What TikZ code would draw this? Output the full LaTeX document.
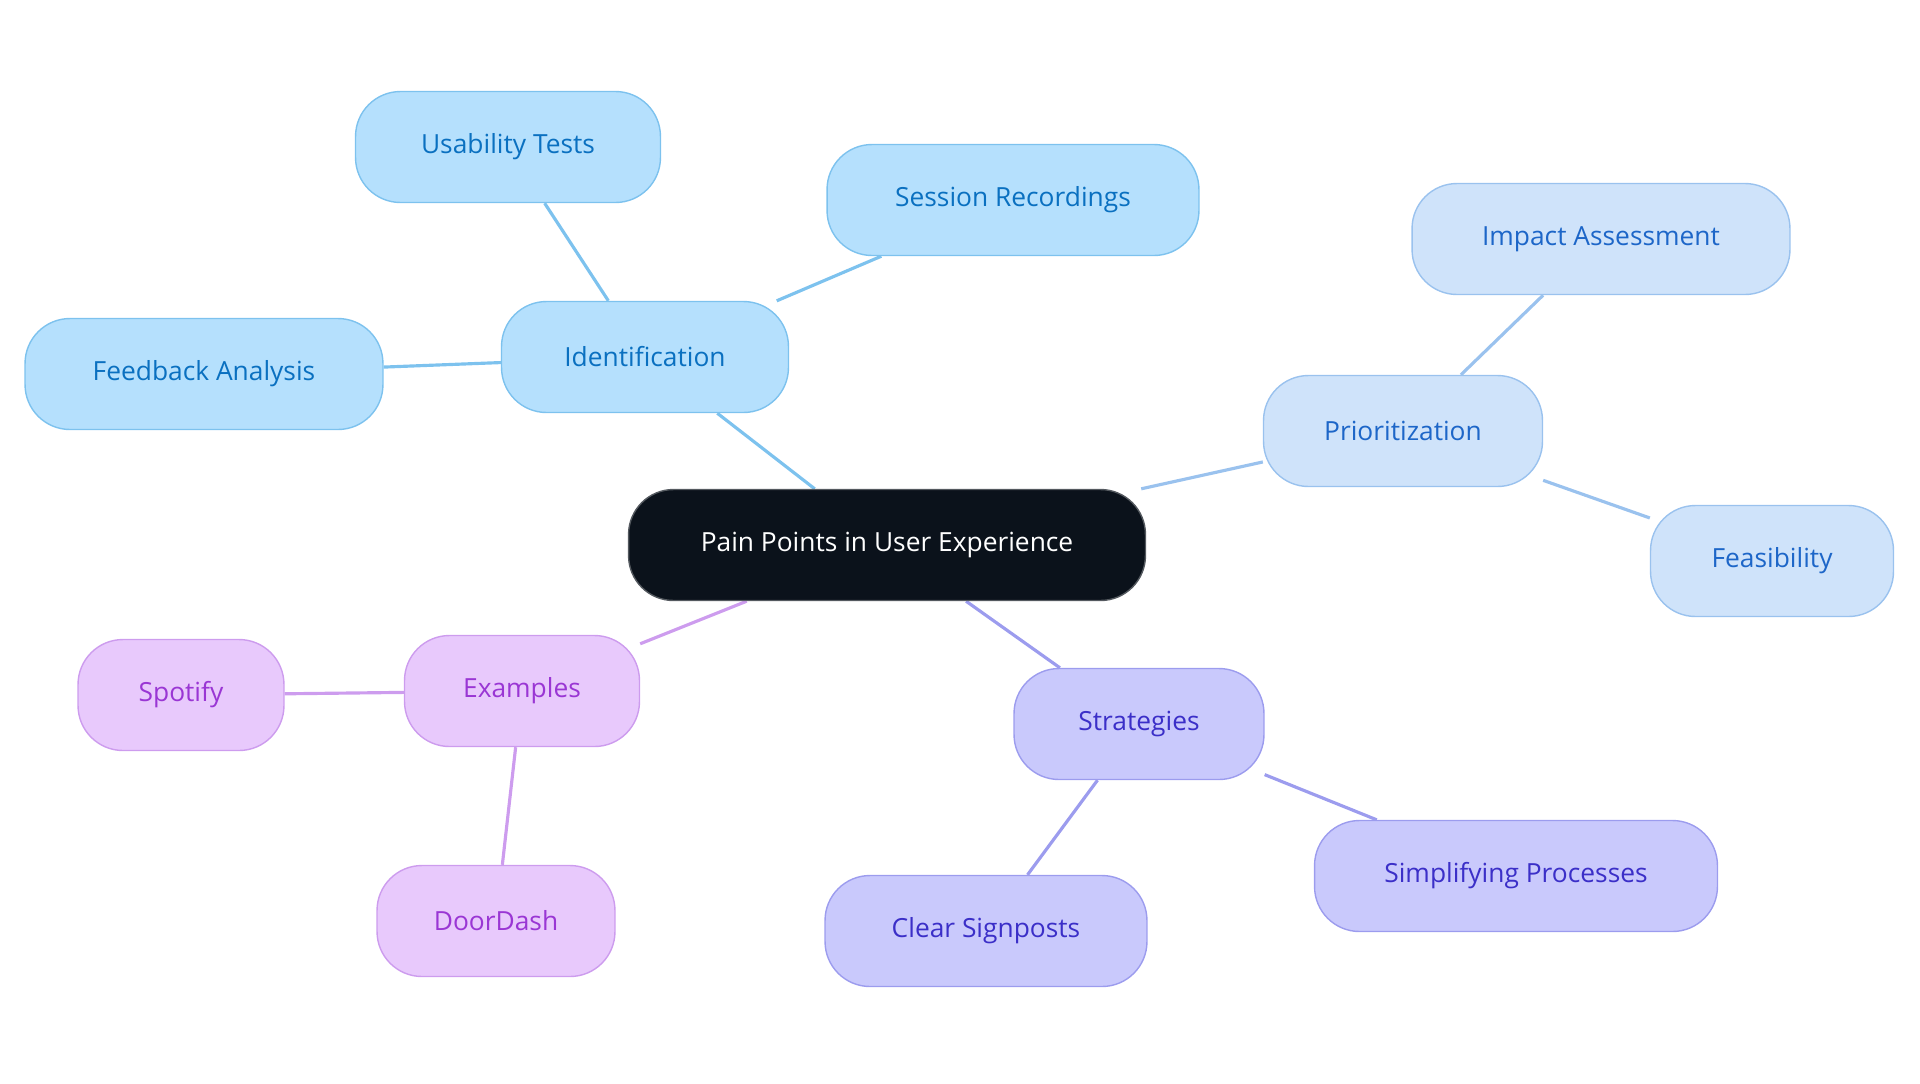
\documentclass[tikz,border=0pt]{standalone}
\usepackage{fontspec}
\setmainfont{Open Sans}
\usetikzlibrary{backgrounds}
\definecolor{rootfill}{HTML}{0B121B}
\definecolor{idfill}{HTML}{B5E0FD}\definecolor{iddraw}{HTML}{7DC2EE}\definecolor{idtext}{HTML}{0A70C0}
\definecolor{prfill}{HTML}{CFE3FA}\definecolor{prdraw}{HTML}{9AC2EE}\definecolor{prtext}{HTML}{1D66C8}
\definecolor{stfill}{HTML}{C9C9FC}\definecolor{stdraw}{HTML}{9C9CEE}\definecolor{sttext}{HTML}{3B2FC8}
\definecolor{exfill}{HTML}{E8C9FC}\definecolor{exdraw}{HTML}{CD9CEE}\definecolor{extext}{HTML}{9A36D4}
\tikzset{
  pill/.style={rounded corners=0.9cm, minimum height=2.22cm, line width=0.8pt, font=\fontsize{15}{18}\selectfont, inner sep=0pt},
  idbox/.style={pill, fill=idfill, draw=iddraw, text=idtext},
  prbox/.style={pill, fill=prfill, draw=prdraw, text=prtext},
  stbox/.style={pill, fill=stfill, draw=stdraw, text=sttext},
  exbox/.style={pill, fill=exfill, draw=exdraw, text=extext},
  link/.style={line width=1.8pt}
}
\begin{document}
\begin{tikzpicture}[x=0.02cm,y=-0.02cm]
\useasboundingbox (0,0) rectangle (1920,1083);
% centre
\node[pill, fill=rootfill, draw=rootfill!70!white, text=white, minimum width=10.34cm] (root) at (887,545) {Pain Points in User Experience};
% identification
\node[idbox, minimum width=5.74cm] (ident) at (645,357) {Identification};
\node[idbox, minimum width=6.1cm] (usab) at (508,147) {Usability Tests};
\node[idbox, minimum width=7.44cm] (sess) at (1013,200) {Session Recordings};
\node[idbox, minimum width=7.16cm] (feed) at (204,374) {Feedback Analysis};
% prioritization
\node[prbox, minimum width=5.58cm] (prio) at (1403,431) {Prioritization};
\node[prbox, minimum width=7.56cm] (impact) at (1601,239) {Impact Assessment};
\node[prbox, minimum width=4.86cm] (feas) at (1772,561) {Feasibility};
% strategies
\node[stbox, minimum width=5.0cm] (strat) at (1139,724) {Strategies};
\node[stbox, minimum width=6.44cm] (clear) at (986,931) {Clear Signposts};
\node[stbox, minimum width=8.06cm] (simpl) at (1516,876) {Simplifying Processes};
% examples
\node[exbox, minimum width=4.7cm] (exam) at (522,691) {Examples};
\node[exbox, minimum width=4.12cm] (spot) at (181,695) {Spotify};
\node[exbox, minimum width=4.76cm] (door) at (496,921) {DoorDash};
\begin{scope}[on background layer]
\draw[link, iddraw] (root) -- (ident) (ident) -- (usab) (ident) -- (sess) (ident) -- (feed);
\draw[link, prdraw] (root) -- (prio) (prio) -- (impact) (prio) -- (feas);
\draw[link, stdraw] (root) -- (strat) (strat) -- (clear) (strat) -- (simpl);
\draw[link, exdraw] (root) -- (exam) (exam) -- (spot) (exam) -- (door);
\end{scope}
\end{tikzpicture}
\end{document}
